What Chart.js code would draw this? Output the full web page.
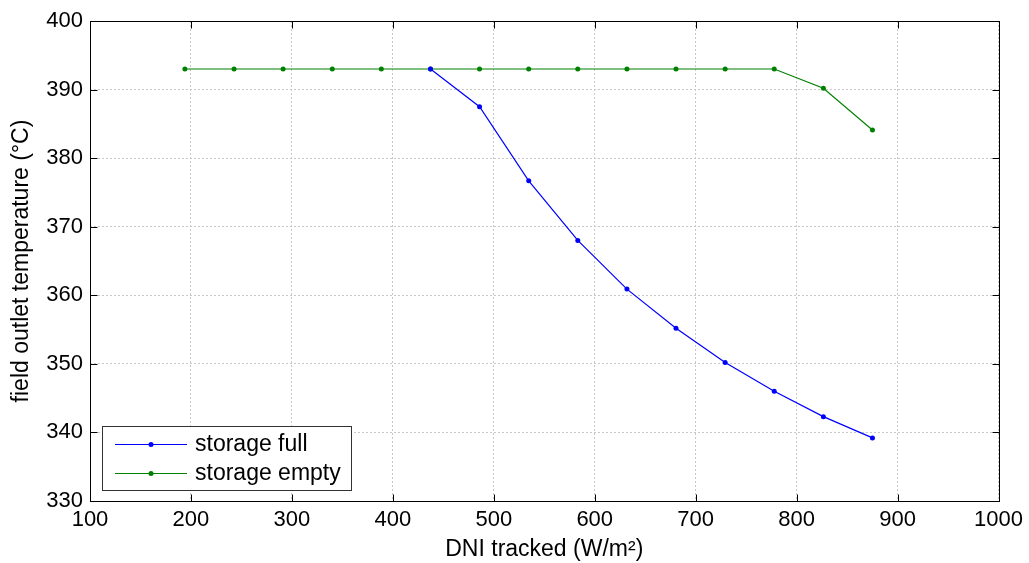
<!DOCTYPE html>
<html><head><meta charset="utf-8">
<script src="https://cdn.jsdelivr.net/npm/chart.js@4/dist/chart.umd.min.js"></script>
<style>html,body{margin:0;padding:0;background:#fff}#w{width:1029px;height:563px}</style>
</head><body><div id="w"><canvas id="c"></canvas></div>
<script>
const dni = [194, 242.7, 291.3, 340, 388.6, 437.3, 485.9, 534.6, 583.2, 631.9, 680.5, 729.2, 777.8, 826.5, 875.1];
const storageEmpty = [393, 393, 393, 393, 393, 393, 393, 393, 393, 393, 393, 393, 393, 390.2, 384.1];
const storageFull = [null, null, null, null, null, 393, 387.5, 376.7, 368.0, 360.9, 355.2, 350.2, 346.0, 342.3, 339.2];
const xTicks = [100, 200, 300, 400, 500, 600, 700, 800, 900, 1000];
const yTicks = [330, 340, 350, 360, 370, 380, 390, 400];
const seriesNames = ['storage full', 'storage empty'];

const toPts = ys => dni.map((x, i) => ({x, y: ys[i]})).filter(p => p.y !== null);
const FONT = 'Liberation Sans, Arial, sans-serif';

const frame = {
  id: 'frame',
  afterDraw(chart) {
    const {ctx, chartArea: a} = chart;
    const L = Math.round(a.left) + 0.5, R = Math.round(a.right) + 0.5, T = Math.round(a.top) + 0.5, B = Math.round(a.bottom) + 0.5;
    ctx.save();
    ctx.strokeStyle = '#000'; ctx.lineWidth = 1;
    ctx.strokeRect(L, T, R - L, B - T);
    ctx.beginPath();
    xTicks.forEach(v => {
      const px = Math.round(chart.scales.x.getPixelForValue(v)) + 0.5;
      ctx.moveTo(px, B); ctx.lineTo(px, B - 7);
      ctx.moveTo(px, T); ctx.lineTo(px, T + 7);
    });
    yTicks.forEach(v => {
      const py = Math.round(chart.scales.y.getPixelForValue(v)) + 0.5;
      ctx.moveTo(L, py); ctx.lineTo(L + 7, py);
      ctx.moveTo(R, py); ctx.lineTo(R - 7, py);
    });
    ctx.stroke();
    // legend
    const lx = a.left + 12, ly = a.bottom - 75, lw = 249, lh = 64;
    ctx.fillStyle = '#fff';
    ctx.fillRect(lx, ly, lw, lh);
    ctx.strokeStyle = '#333';
    ctx.strokeRect(lx + 0.5, ly + 0.5, lw, lh);
    ctx.font = '23px ' + FONT;
    ctx.textBaseline = 'middle';
    chart.data.datasets.forEach((ds, i) => {
      const yy = ly + 18 + i * 29;
      ctx.strokeStyle = ds.borderColor; ctx.lineWidth = 1;
      ctx.beginPath(); ctx.moveTo(lx + 13, yy + 0.5); ctx.lineTo(lx + 85, yy + 0.5); ctx.stroke();
      ctx.fillStyle = ds.borderColor;
      ctx.beginPath(); ctx.arc(lx + 49, yy + 0.5, 2.5, 0, Math.PI * 2); ctx.fill();
      ctx.fillStyle = '#000';
      ctx.fillText(ds.label, lx + 93, yy + 1);
    });
    ctx.restore();
  }
};

new Chart(document.getElementById('c'), {
  type: 'line',
  data: {
    datasets: [
      {label: seriesNames[0], data: toPts(storageFull), borderColor: '#0000ff', backgroundColor: '#0000ff', borderWidth: 1.2, pointRadius: 2.5, pointHoverRadius: 2.5, pointBorderWidth: 0, tension: 0},
      {label: seriesNames[1], data: toPts(storageEmpty), borderColor: '#008000', backgroundColor: '#008000', borderWidth: 1.2, pointRadius: 2.5, pointHoverRadius: 2.5, pointBorderWidth: 0, tension: 0}
    ]
  },
  options: {
    responsive: true, maintainAspectRatio: false, animation: false,
    layout: {padding: {top: 21, right: 27, left: 0, bottom: 0}},
    plugins: {legend: {display: false}, tooltip: {enabled: false}},
    scales: {
      x: {
        type: 'linear', min: 100, max: 1000,
        afterBuildTicks: s => { s.ticks = xTicks.map(v => ({value: v})); },
        afterFit: s => { s.height = 62; },
        grid: {color: '#c8c8c8', lineWidth: 1, drawTicks: false},
        border: {display: false, dash: [2, 2]},
        ticks: {color: '#000', font: {family: FONT, size: 22}, padding: 6, maxRotation: 0, callback: v => String(v)},
        title: {display: true, text: 'DNI tracked (W/m²)', color: '#000', font: {family: FONT, size: 23}, padding: {top: 0, bottom: 0}}
      },
      y: {
        type: 'linear', min: 330, max: 400,
        afterBuildTicks: s => { s.ticks = yTicks.map(v => ({value: v})); },
        afterFit: s => { s.width = 90; },
        grid: {color: '#c8c8c8', lineWidth: 1, drawTicks: false},
        border: {display: false, dash: [2, 2]},
        ticks: {color: '#000', font: {family: FONT, size: 22}, padding: 7, callback: v => String(v)},
        title: {display: true, text: 'field outlet temperature (°C)', color: '#000', font: {family: FONT, size: 23}, padding: {top: 8, bottom: 0}}
      }
    }
  },
  plugins: [frame]
});
</script>
</body></html>
